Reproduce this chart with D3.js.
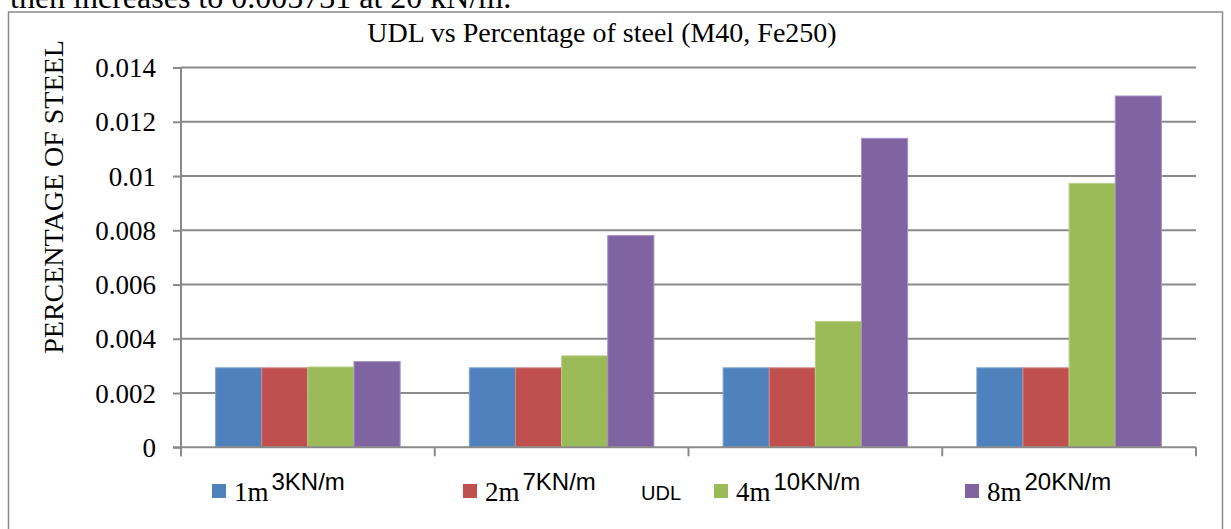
<!DOCTYPE html>
<html>
<head>
<meta charset="utf-8">
<script src="https://cdn.jsdelivr.net/npm/d3@7"></script>
<style>
  html, body { margin: 0; padding: 0; background: #fff; overflow: hidden; }
  svg { display: block; }
</style>
</head>
<body>
<svg id="chart" width="1231" height="529"></svg>
<script>
// ---- data ----
const categories = ["Span 1", "Span 2", "Span 3", "Span 4"];
const seriesNames = ["1m", "2m", "4m", "8m"];
const seriesLoads = ["3KN/m", "7KN/m", "10KN/m", "20KN/m"];
const series1m = [0.00293, 0.00293, 0.00293, 0.00293];
const series2m = [0.00293, 0.00293, 0.00293, 0.00293];
const series4m = [0.00296, 0.00337, 0.00464, 0.00973];
const series8m = [0.00316, 0.00781, 0.01139, 0.01295];
const yTicks = [0, 0.002, 0.004, 0.006, 0.008, 0.01, 0.012, 0.014];
const yTickLabels = ["0", "0.002", "0.004", "0.006", "0.008", "0.01", "0.012", "0.014"];
const titleText = "UDL vs Percentage of steel (M40, Fe250)";
const yAxisTitle = "PERCENTAGE OF STEEL";
const xAxisTitle = "UDL";
const bodyText = "then increases to 0.005731 at 20 kN/m.";

const colors = ["#4F81BD", "#C0504D", "#9BBB59", "#8064A2"];
const strokes = ["#7fa3cf", "#d38785", "#b7cf89", "#a693c0"];
const allSeries = [series1m, series2m, series4m, series8m];

// ---- layout ----
const svg = d3.select("#chart");
const serif = "'Liberation Serif', 'Times New Roman', serif";
const sans = "'Liberation Sans', Arial, sans-serif";
const plot = { left: 181, right: 1196, top: 67.5, bottom: 447.3 };
const axisColor = "#8a8a8a";

// body text (page text above the chart, clipped by the top edge as in the source)
svg.append("text").attr("x", 10).attr("y", 8)
  .attr("font-family", serif).attr("font-size", 32).attr("fill", "#000")
  .text(bodyText);

// chart frame
svg.append("rect").attr("x", 8.5).attr("y", 12).attr("width", 1214).attr("height", 560)
  .attr("fill", "#fff").attr("stroke", axisColor).attr("stroke-width", 1.5);

// title
svg.append("text").attr("x", 602).attr("y", 42).attr("text-anchor", "middle")
  .attr("font-family", serif).attr("font-size", 28).attr("fill", "#000")
  .text(titleText);

// scales
const y = d3.scaleLinear().domain([0, 0.014]).range([plot.bottom, plot.top]);
const x0 = d3.scaleBand().domain(categories).range([plot.left, plot.right]).padding(0);
const bw = x0.bandwidth();
const gap = bw * 1.5 / 5.5;
const x1 = d3.scaleBand().domain(seriesNames).range([gap / 2, bw - gap / 2]).padding(0);

// gridlines
svg.append("g").selectAll("line").data(yTicks.slice(1)).join("line")
  .attr("x1", plot.left).attr("x2", plot.right)
  .attr("y1", d => y(d)).attr("y2", d => y(d))
  .attr("stroke", axisColor).attr("stroke-width", 2);

// bars
const groups = svg.append("g").selectAll("g").data(categories).join("g")
  .attr("transform", d => `translate(${x0(d)},0)`);
groups.selectAll("rect").data((c, ci) => seriesNames.map((s, si) => ({ s, si, v: allSeries[si][ci] })))
  .join("rect")
  .attr("x", d => x1(d.s)).attr("width", x1.bandwidth())
  .attr("y", d => y(d.v)).attr("height", d => y(0) - y(d.v))
  .attr("fill", d => colors[d.si])
  .attr("stroke", d => strokes[d.si]).attr("stroke-width", 1);

// y axis
const yAxis = d3.axisLeft(y).tickValues(yTicks).tickFormat((d, i) => yTickLabels[i]).tickSize(8).tickPadding(17);
const gy = svg.append("g").attr("transform", `translate(${plot.left},0)`).call(yAxis);
gy.select(".domain").remove();
gy.append("line").attr("x1", 0).attr("x2", 0).attr("y1", plot.top).attr("y2", plot.bottom + 9)
  .attr("stroke", axisColor).attr("stroke-width", 2);
gy.selectAll(".tick line").attr("stroke", axisColor).attr("stroke-width", 2);
gy.selectAll(".tick text").attr("font-family", serif).attr("font-size", 27).attr("fill", "#000")
  .attr("dy", "0.34em");

// x axis
const xTickPositions = [plot.left].concat(categories.map(c => x0(c) + bw));
const gx = svg.append("g");
gx.append("line").attr("x1", plot.left - 8).attr("x2", plot.right)
  .attr("y1", plot.bottom).attr("y2", plot.bottom)
  .attr("stroke", axisColor).attr("stroke-width", 2);
gx.selectAll("line.tk").data(xTickPositions).join("line").attr("class", "tk")
  .attr("x1", d => d).attr("x2", d => d).attr("y1", plot.bottom).attr("y2", plot.bottom + 9)
  .attr("stroke", axisColor).attr("stroke-width", 2);

// y title
svg.append("text")
  .attr("transform", `translate(63,${197}) rotate(-90)`)
  .attr("text-anchor", "middle")
  .attr("font-family", serif).attr("font-size", 28).attr("fill", "#000")
  .text(yAxisTitle);

// x title (sits in legend row)
svg.append("text").attr("x", 641).attr("y", 500)
  .attr("font-family", sans).attr("font-size", 20).attr("fill", "#000")
  .text(xAxisTitle);

// legend
const legendX = [212, 463, 714, 965];
seriesNames.forEach((name, i) => {
  const g = svg.append("g");
  g.append("rect").attr("x", legendX[i]).attr("y", 484).attr("width", 14).attr("height", 14)
    .attr("fill", colors[i]);
  const t = g.append("text").attr("x", legendX[i] + 22).attr("y", 501)
    .attr("font-family", serif).attr("font-size", 27).attr("fill", "#000").text(name);
  const w = t.node().getComputedTextLength();
  g.append("text").attr("x", legendX[i] + 22 + w + 3).attr("y", 490)
    .attr("font-family", sans).attr("font-size", 24).attr("fill", "#000").text(seriesLoads[i]);
});
</script>
</body>
</html>
